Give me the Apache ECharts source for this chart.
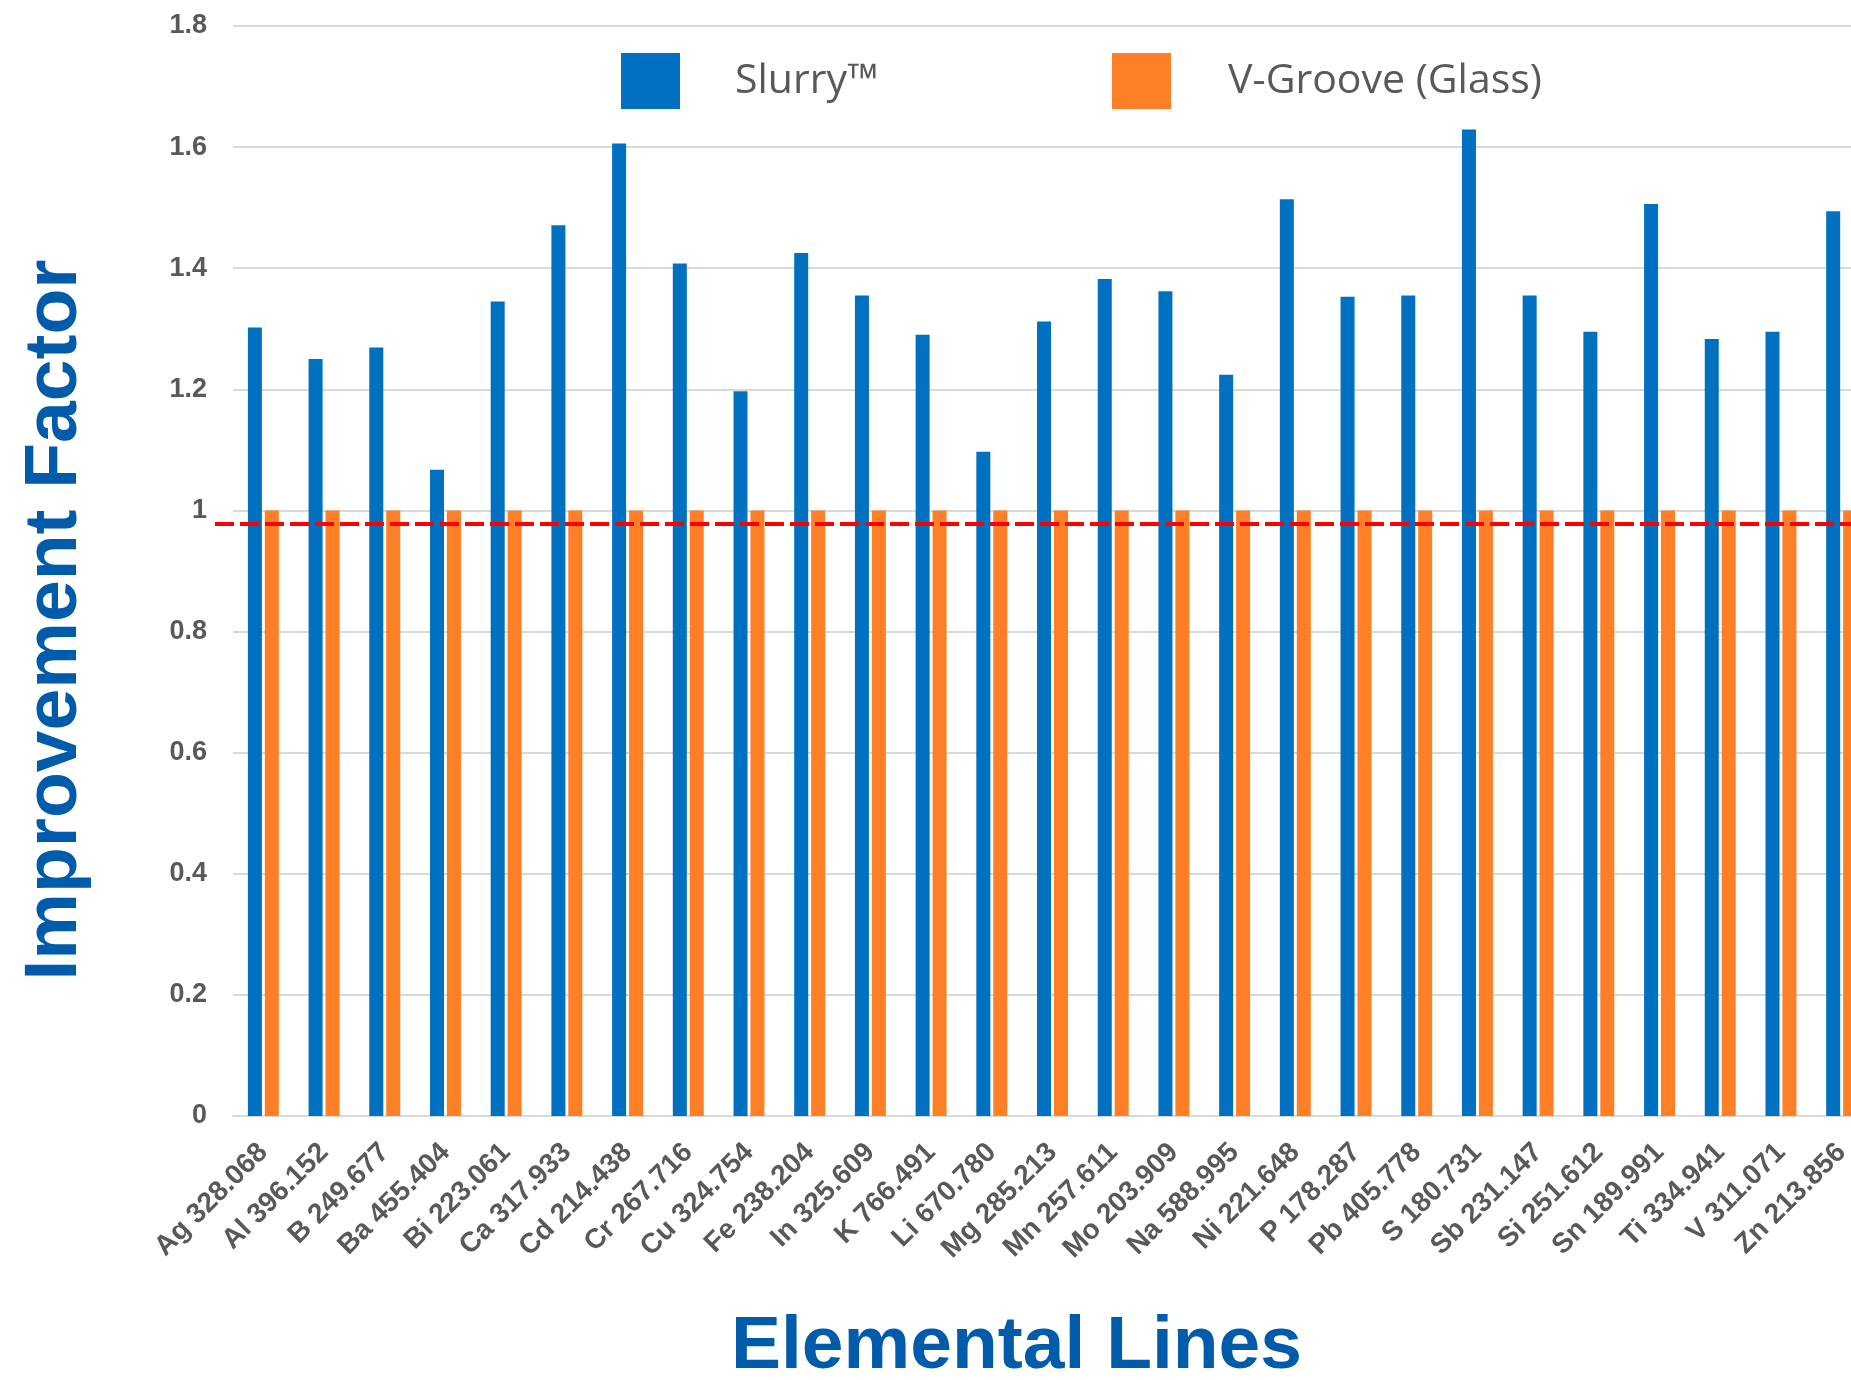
<!DOCTYPE html>
<html>
<head>
<meta charset="utf-8">
<title>Improvement Factor by Elemental Line</title>
<script src="https://cdn.jsdelivr.net/npm/echarts@6/dist/echarts.min.js"></script>
<style>
  html, body { margin: 0; padding: 0; background: #ffffff; }
  #chart { width: 1851px; height: 1380px; }
</style>
</head>
<body>
<div id="chart"></div>
<script>
// Emission lines (element + wavelength in nm)
const categories = [
  'Ag 328.068', 'Al 396.152', 'B 249.677', 'Ba 455.404', 'Bi 223.061',
  'Ca 317.933', 'Cd 214.438', 'Cr 267.716', 'Cu 324.754', 'Fe 238.204',
  'In 325.609', 'K 766.491', 'Li 670.780', 'Mg 285.213', 'Mn 257.611',
  'Mo 203.909', 'Na 588.995', 'Ni 221.648', 'P 178.287', 'Pb 405.778',
  'S 180.731', 'Sb 231.147', 'Si 251.612', 'Sn 189.991', 'Ti 334.941',
  'V 311.071', 'Zn 213.856'
];

// Improvement factor of the Slurry nebulizer relative to the V-Groove baseline
const slurryValues = [
  1.302, 1.250, 1.269, 1.067, 1.345,
  1.471, 1.606, 1.408, 1.197, 1.425,
  1.355, 1.290, 1.097, 1.312, 1.382,
  1.362, 1.224, 1.514, 1.353, 1.355,
  1.629, 1.355, 1.295, 1.506, 1.283,
  1.295, 1.494
];

// Baseline (V-Groove glass) is 1 for every line
const vGrooveValues = [
  1, 1, 1, 1, 1,
  1, 1, 1, 1, 1,
  1, 1, 1, 1, 1,
  1, 1, 1, 1, 1,
  1, 1, 1, 1, 1,
  1, 1
];

const seriesNames = ['Slurry\u2122', 'V-Groove (Glass)'];
const referenceLevel = 0.978;

const BLUE = '#0070C0';
const ORANGE = '#FF7F27';
const TITLE_BLUE = '#005BAB';
const GREY_TEXT = '#595959';
const GRID_GREY = '#D9D9D9';

const chart = echarts.init(document.getElementById('chart'), null, { renderer: 'canvas' });

const legendText = {
  fontFamily: '"Open Sans", "Noto Sans", sans-serif',
  fontSize: 41,
  color: GREY_TEXT
};

chart.setOption({
  backgroundColor: '#ffffff',
  animation: false,
  // plot area runs slightly past the right edge of the canvas
  grid: {
    left: 233, width: 1639, top: 26, bottom: 264,
    containLabel: false,
    outerBoundsMode: 'none'
  },
  legend: [
    {
      data: [seriesNames[0]],
      left: 621, top: 53, padding: 0,
      icon: 'rect', itemWidth: 59, itemHeight: 56,
      selectedMode: false,
      textStyle: Object.assign({ padding: [10, 0, 0, 50] }, legendText)
    },
    {
      data: [seriesNames[1]],
      left: 1112, top: 53, padding: 0,
      icon: 'rect', itemWidth: 59, itemHeight: 56,
      selectedMode: false,
      textStyle: Object.assign({ padding: [10, 0, 0, 52] }, legendText)
    }
  ],
  xAxis: {
    type: 'category',
    data: categories,
    name: 'Elemental Lines',
    nameLocation: 'middle',
    nameGap: 194,
    nameTextStyle: {
      fontFamily: '"Liberation Sans", Arial, sans-serif',
      fontWeight: 'bold',
      fontSize: 75,
      color: TITLE_BLUE,
      padding: [0, 72, 0, 0]
    },
    axisLine: { show: true, lineStyle: { color: GRID_GREY, width: 2 } },
    axisTick: { show: false },
    axisLabel: {
      interval: 0,
      rotate: 45,
      margin: 32,
      padding: [14, 0, 0, 0],
      fontFamily: '"Liberation Sans", Arial, sans-serif',
      fontWeight: 'bold',
      fontSize: 28,
      color: GREY_TEXT
    }
  },
  yAxis: {
    type: 'value',
    min: 0,
    max: 1.8,
    interval: 0.2,
    name: 'Improvement Factor',
    nameLocation: 'middle',
    nameRotate: 90,
    nameGap: 140,
    nameTextStyle: {
      fontFamily: '"Liberation Sans", Arial, sans-serif',
      fontWeight: 'bold',
      fontSize: 75,
      color: TITLE_BLUE,
      padding: [0, 98, 0, 0]
    },
    axisLine: { show: false },
    axisTick: { show: false },
    axisLabel: {
      margin: 26,
      fontFamily: '"Liberation Sans", Arial, sans-serif',
      fontWeight: 'bold',
      fontSize: 27,
      color: GREY_TEXT
    },
    splitLine: { show: true, lineStyle: { color: GRID_GREY, width: 2 } }
  },
  series: [
    {
      name: seriesNames[0],
      type: 'bar',
      data: slurryValues,
      barWidth: 14,
      barGap: '21%',
      itemStyle: { color: BLUE }
    },
    {
      name: seriesNames[1],
      type: 'bar',
      data: vGrooveValues,
      barWidth: 14,
      itemStyle: { color: ORANGE },
      markLine: {
        silent: true,
        symbol: 'none',
        label: { show: false },
        lineStyle: { color: '#FF0000', width: 4, type: [19, 6] },
        // dashed reference line, drawn from just left of the plot to the right edge
        data: [[
          { xAxis: categories[0], yAxis: referenceLevel, x: 215 },
          { xAxis: categories[categories.length - 1], yAxis: referenceLevel, x: '100%' }
        ]]
      }
    }
  ]
});
</script>
</body>
</html>
